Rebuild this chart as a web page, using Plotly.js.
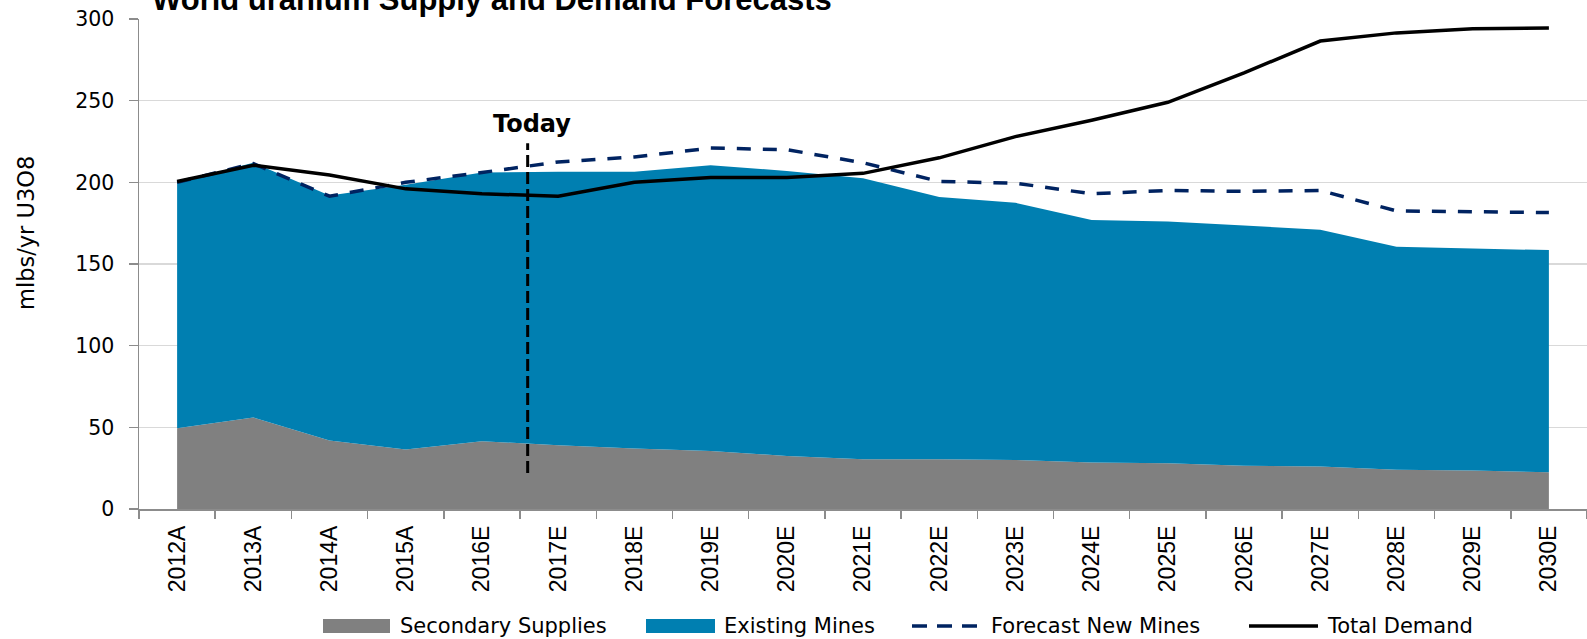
<!DOCTYPE html>
<html>
<head>
<meta charset="utf-8">
<script src="https://cdn.plot.ly/plotly-3.0.1.min.js"></script>
<style>
  html, body { margin: 0; padding: 0; background: #fff; }
  #chart { width: 1587px; height: 639px; }
</style>
</head>
<body>
<div id="chart"></div>
<script>
// ---- data ----
const categories = ['2012A','2013A','2014A','2015A','2016E','2017E','2018E','2019E','2020E','2021E',
                    '2022E','2023E','2024E','2025E','2026E','2027E','2028E','2029E','2030E'];
const secondarySupplies = [49.5, 56, 42, 36.5, 41.5, 39, 37, 35.5, 32.5, 30.5, 30.5, 30, 28.5, 28, 26.5, 26, 24, 23.5, 22.5];
const existingMines     = [150.5, 156, 150, 162, 164.5, 167.5, 169.5, 175, 174.5, 172, 160.5, 157.5, 148.5, 148, 147, 145, 136.5, 136, 136];
const forecastNewMines  = [200, 211.5, 191.5, 200, 206, 212.5, 215.5, 221, 220, 212, 200.5, 199.5, 193, 195, 194.5, 195, 182.5, 182, 181.5];
const totalDemand       = [200.5, 210.5, 204.5, 196, 193, 191.5, 200, 203, 203, 205.5, 215, 228, 238, 249, 267, 286.5, 291.5, 294, 294.5];
const yTicks = [0, 50, 100, 150, 200, 250, 300];
const seriesNames = ['Secondary Supplies', 'Existing Mines', 'Forecast New Mines', 'Total Demand'];
const todayLabel = 'Today';
const chartTitle = 'World uranium Supply and Demand Forecasts';
const yTitle = 'mlbs/yr U3O8';

// ---- styling ----
const GRAY = '#808080', BLUE = '#007FB1', NAVY = '#002361', BLACK = '#000000';
const W = 1587, H = 639;
const M = {l: 139, r: 0, t: 19, b: 130};
const PW = W - M.l - M.r, PH = H - M.t - M.b;
const px = x => (x - M.l) / PW;      // pixel -> paper x
const py = y => (H - M.b - y) / PH;  // pixel -> paper y

const traces = [
  {x: categories, y: secondarySupplies, name: seriesNames[0], type: 'scatter', mode: 'none',
   stackgroup: 'supply', fillcolor: GRAY, line: {width: 0}, showlegend: false},
  {x: categories, y: existingMines, name: seriesNames[1], type: 'scatter', mode: 'none',
   stackgroup: 'supply', fillcolor: BLUE, line: {width: 0}, showlegend: false},
  {x: categories, y: forecastNewMines, name: seriesNames[2], type: 'scatter', mode: 'lines',
   line: {color: NAVY, width: 3.5, dash: '14px,12px'}, showlegend: false},
  {x: categories, y: totalDemand, name: seriesNames[3], type: 'scatter', mode: 'lines',
   line: {color: BLACK, width: 3.5}, showlegend: false}
];

const legendFont = {family: 'DejaVu Sans', size: 21, color: '#000'};
const legY = 626;
const shapes = [
  // Today marker
  {type: 'line', xref: 'x', yref: 'y', x0: 4.6, x1: 4.6, y0: 22, y1: 224,
   line: {color: BLACK, width: 3, dash: '12px,5px'}, layer: 'above'},
  // legend swatches
  {type: 'rect', xref: 'paper', yref: 'paper', x0: px(323), x1: px(390), y0: py(633), y1: py(619),
   fillcolor: GRAY, line: {width: 0}},
  {type: 'rect', xref: 'paper', yref: 'paper', x0: px(646), x1: px(715), y0: py(633), y1: py(619),
   fillcolor: BLUE, line: {width: 0}},
  {type: 'line', xref: 'paper', yref: 'paper', x0: px(912), x1: px(984), y0: py(legY), y1: py(legY),
   line: {color: NAVY, width: 3.5, dash: '15px,10px'}},
  {type: 'line', xref: 'paper', yref: 'paper', x0: px(1249), x1: px(1318), y0: py(legY), y1: py(legY),
   line: {color: BLACK, width: 3.5}}
];

const legendX = [398, 722, 989, 1325];
const annotations = legendX.map((x, i) => ({
  xref: 'paper', yref: 'paper', x: px(x), y: py(legY), xanchor: 'left', yanchor: 'middle',
  text: seriesNames[i], showarrow: false, font: legendFont
}));
annotations.push({
  xref: 'x', yref: 'y', x: 4.66, y: 236, xanchor: 'center', yanchor: 'middle',
  text: '<b>' + todayLabel + '</b>', showarrow: false,
  font: {family: 'DejaVu Sans', size: 24, color: '#000'}
});
annotations.push({
  xref: 'paper', yref: 'paper', x: px(26), y: py(233), xanchor: 'center', yanchor: 'middle',
  text: yTitle, textangle: -90, showarrow: false,
  font: {family: 'DejaVu Sans', size: 22.5, color: '#000'}
});
annotations.push({
  xref: 'paper', yref: 'paper', x: px(150), y: 1.0, xanchor: 'left', yanchor: 'bottom',
  text: '<b>' + chartTitle + '</b>', showarrow: false,
  font: {family: 'Liberation Sans', size: 31, color: '#000'}
});

const layout = {
  width: W, height: H,
  margin: M,
  paper_bgcolor: '#fff', plot_bgcolor: '#fff',
  showlegend: false,
  xaxis: {
    type: 'category', range: [-0.5, categories.length - 0.5],
    tickson: 'boundaries', ticks: 'outside', ticklen: 8, tickwidth: 1.5, tickcolor: '#8C8C8C',
    showline: true, linecolor: '#8C8C8C', linewidth: 1.5,
    showgrid: false, tickangle: -90, ticklabelstandoff: 6,
    tickfont: {family: 'Liberation Sans', size: 23, color: '#000'}
  },
  yaxis: {
    range: [0, 300], tickvals: yTicks, ticktext: yTicks.map(String),
    ticks: 'outside', ticklen: 9, tickwidth: 1.5, tickcolor: '#8C8C8C',
    showline: true, linecolor: '#8C8C8C', linewidth: 1.5,
    showgrid: true, gridcolor: '#D9D9D9', gridwidth: 1.5, zeroline: false,
    ticklabelstandoff: 10,
    tickfont: {family: 'DejaVu Sans', size: 20.5, color: '#000'}
  },
  shapes: shapes,
  annotations: annotations
};

Plotly.newPlot('chart', traces, layout, {staticPlot: true, displayModeBar: false});
</script>
</body>
</html>
